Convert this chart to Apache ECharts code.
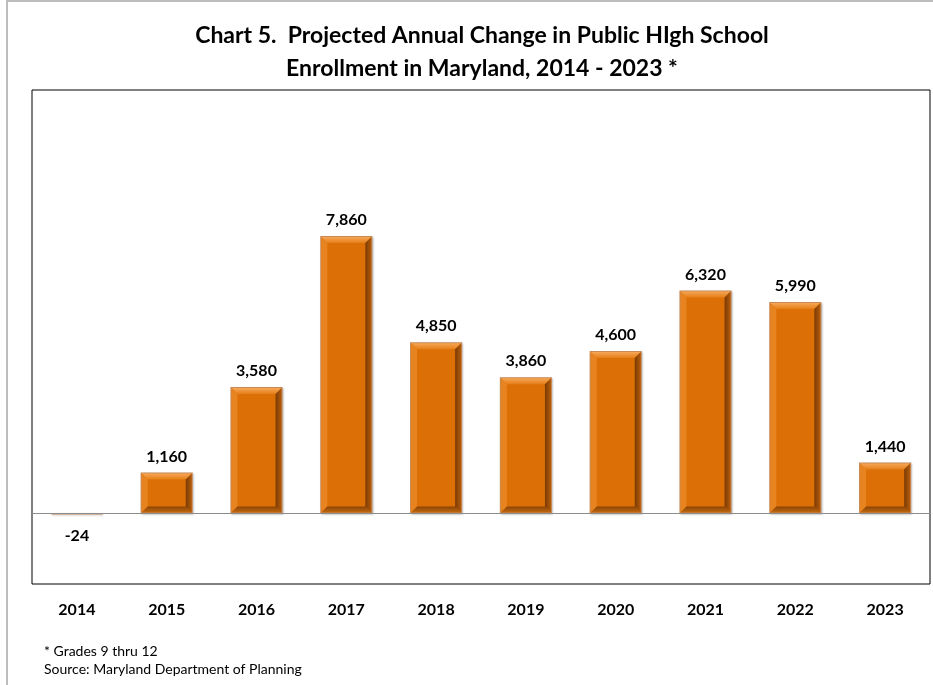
<!DOCTYPE html>
<html>
<head>
<meta charset="utf-8">
<script src="https://cdn.jsdelivr.net/npm/echarts@6/dist/echarts.min.js"></script>
<style>
html,body{margin:0;padding:0;background:#fff;}
#chart{width:933px;height:685px;}
</style>
</head>
<body>
<div id="chart"></div>
<script>
const years = ['2014','2015','2016','2017','2018','2019','2020','2021','2022','2023'];
const changes = [-24, 1160, 3580, 7860, 4850, 3860, 4600, 6320, 5990, 1440];
const titleLines = ['Chart 5.  Projected Annual Change in Public HIgh School', 'Enrollment in Maryland, 2014 - 2023 *'];
const notes = ['* Grades 9 thru 12', 'Source: Maryland Department of Planning'];

const FONT = 'Lato, "Open Sans", sans-serif';
const BAR_RATIO = 0.58;
const chart = echarts.init(document.getElementById('chart'));

function bevel(params, api) {
  const idx = api.value(0), val = api.value(1);
  const p1 = api.coord([idx, val]);
  const p0 = api.coord([idx, 0]);
  const w = api.size([1, 0])[0] * BAR_RATIO;
  const x0 = p1[0] - w / 2, x1 = x0 + w;
  const yT = Math.min(p0[1], p1[1]), yB = Math.max(p0[1], p1[1]);
  const h = yB - yT;
  if (h < 6) return null;
  const b = Math.min(7, h / 3);
  const poly = (pts, fill) => ({type: 'polygon', shape: {points: pts}, style: {fill: fill}, silent: true});
  return {
    type: 'group',
    children: [
      poly([[x0+1,yT+1],[x1-1,yT+1],[x1-b,yT+b],[x0+b,yT+b]], new echarts.graphic.LinearGradient(0,0,0,1,[{offset:0,color:'#F6A656'},{offset:1,color:'#E57E18'}])),
      poly([[x0+1,yT+1],[x0+b,yT+b],[x0+b,yB-b],[x0+1,yB-1]], '#E88420'),
      poly([[x1-1,yT+1],[x1-1,yB-1],[x1-b,yB-b],[x1-b,yT+b]], new echarts.graphic.LinearGradient(0,0,1,0,[{offset:0,color:'#7A3A04'},{offset:1,color:'#B35C0C'}])),
      poly([[x0+1,yB-1],[x1-1,yB-1],[x1-b,yB-b],[x0+b,yB-b]], new echarts.graphic.LinearGradient(0,0,0,1,[{offset:0,color:'#8A4406'},{offset:1,color:'#C06810'}]))
    ]
  };
}

chart.setOption({
  animation: false,
  backgroundColor: '#fff',
  title: {
    text: titleLines.join('\n'),
    left: 477, top: 14, textAlign: 'center',
    textStyle: {fontFamily: FONT, fontWeight: 'bold', fontSize: 23, color: '#000', lineHeight: 33}
  },
  graphic: [
    {type: 'rect', shape: {x: 7, y: 1, width: 940, height: 700}, style: {fill: 'none', stroke: '#BDBDBD', lineWidth: 2}, silent: true, z: -10},
    {type: 'text', left: 44, top: 644, style: {text: notes[0], fontFamily: FONT, fontSize: 14, fill: '#000'}},
    {type: 'text', left: 44, top: 662, style: {text: notes[1], fontFamily: FONT, fontSize: 14, fill: '#000'}}
  ],
  grid: {left: 32, right: 3, top: 90, bottom: 101, show: true, borderColor: '#000', borderWidth: 1, backgroundColor: 'transparent'},
  xAxis: {
    type: 'category', data: years,
    axisLine: {show: false}, axisTick: {show: false},
    axisLabel: {margin: 18, fontFamily: FONT, fontWeight: 'bold', fontSize: 16, color: '#000'}
  },
  yAxis: {
    type: 'value', min: -2000, max: 12000, interval: 2000, show: false,
    splitLine: {show: false}
  },
  series: [{
    type: 'bar', data: changes, barWidth: (BAR_RATIO * 100) + '%',
    itemStyle: {color: '#DC7006', borderColor: '#C98A55', borderWidth: 1.5,
      shadowColor: 'rgba(0,0,0,0.2)', shadowBlur: 2, shadowOffsetX: 1, shadowOffsetY: 1},
    label: {
      show: true, position: 'top', distance: 8,
      fontFamily: FONT, fontWeight: 'bold', fontSize: 16, color: '#000',
      formatter: p => p.value < 0 ? '' : p.value.toLocaleString('en-US')
    },
    markLine: {
      silent: true, symbol: 'none', label: {show: false},
      lineStyle: {color: '#8C8C8C', type: 'solid', width: 1},
      data: [{yAxis: 0}]
    },
    markPoint: {
      symbol: 'rect', symbolSize: 1, itemStyle: {color: 'transparent'},
      label: {show: true, fontFamily: FONT, fontWeight: 'bold', fontSize: 16, color: '#000', offset: [0, 22],
        formatter: p => p.value.toLocaleString('en-US')},
      data: changes.map((v, i) => v < 0 ? {coord: [i, 0], value: v} : null).filter(Boolean)
    }
  }, {
    type: 'custom', data: changes.map((v, i) => [i, v]), renderItem: bevel, silent: true, z: 3,
    encode: {x: 0, y: 1}
  }]
});
</script>
</body>
</html>
